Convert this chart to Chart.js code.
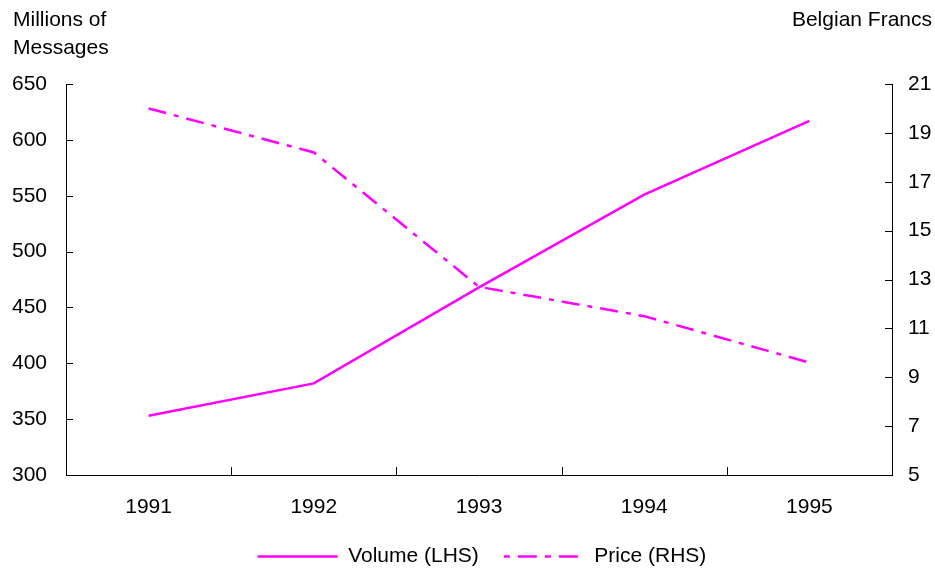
<!DOCTYPE html>
<html>
<head>
<meta charset="utf-8">
<script src="https://cdn.jsdelivr.net/npm/chart.js@4.4.0/dist/chart.umd.min.js"></script>
<style>
  html, body { margin: 0; padding: 0; background: #fff; }
  #wrap { width: 935px; height: 572px; position: relative; }
</style>
</head>
<body>
<div id="wrap"><canvas id="c" width="935" height="572"></canvas></div>
<script>
// Annual message volume and price
const years = ['1991', '1992', '1993', '1994', '1995'];
const volume = [353, 382, 468, 551, 617];      // millions of messages (left axis)
const price = [20.0, 18.2, 12.7, 11.5, 9.6];   // Belgian francs (right axis)
const leftTicks = [300, 350, 400, 450, 500, 550, 600, 650];
const rightTicks = [5, 7, 9, 11, 13, 15, 17, 19, 21];

const FONT = { family: '"Liberation Sans", Arial, sans-serif', size: 21 };
const MAGENTA = '#ff00ff';
const PRICE_DASH = [18, 8, 5, 8];

// Short tick marks pointing into the plot, plus the corner axis titles
const axisDecor = {
  id: 'axisDecor',
  afterLayout(chart) {
    // nudge the legend so it sits centred under the plot
    if (chart.legend) chart.legend.left = 29;
  },
  afterDraw(chart) {
    const { ctx, chartArea: a, scales } = chart;
    ctx.save();
    ctx.strokeStyle = '#000';
    ctx.lineWidth = 1;
    ctx.beginPath();
    const yl = scales.y, yr = scales.y1, x = scales.x;
    leftTicks.forEach(v => {
      const py = Math.round(yl.getPixelForValue(v)) + 0.5;
      ctx.moveTo(a.left, py); ctx.lineTo(a.left + 7, py);
    });
    rightTicks.forEach(v => {
      const py = Math.round(yr.getPixelForValue(v)) + 0.5;
      ctx.moveTo(a.right, py); ctx.lineTo(a.right - 7, py);
    });
    for (let i = 1; i < years.length; i++) {
      const px = Math.round((x.getPixelForValue(i - 1) + x.getPixelForValue(i)) / 2) + 0.5;
      ctx.moveTo(px, a.bottom); ctx.lineTo(px, a.bottom - 8);
    }
    ctx.stroke();

    ctx.fillStyle = '#000';
    ctx.font = FONT.size + 'px ' + FONT.family;
    ctx.textBaseline = 'alphabetic';
    ctx.textAlign = 'left';
    ctx.fillText('Millions of', 13, 26);
    ctx.fillText('Messages', 13, 54);
    ctx.textAlign = 'right';
    ctx.fillText('Belgian Francs', 932, 26);
    ctx.restore();
  }
};

new Chart(document.getElementById('c'), {
  type: 'line',
  data: {
    labels: years,
    datasets: [
      {
        label: 'Volume (LHS)',
        data: volume,
        yAxisID: 'y',
        borderColor: MAGENTA,
        backgroundColor: MAGENTA,
        borderWidth: 2.5,
        pointRadius: 0,
        tension: 0
      },
      {
        label: 'Price (RHS)',
        data: price,
        yAxisID: 'y1',
        borderColor: MAGENTA,
        backgroundColor: MAGENTA,
        borderWidth: 2.5,
        borderDash: PRICE_DASH,
        pointRadius: 0,
        tension: 0
      }
    ]
  },
  options: {
    responsive: false,
    animation: false,
    devicePixelRatio: 1,
    layout: { padding: { top: 84, left: 0, right: 0, bottom: -5 } },
    plugins: {
      tooltip: { enabled: false },
      title: { display: false },
      legend: {
        display: true,
        position: 'bottom',
        labels: {
          font: FONT,
          color: '#000',
          usePointStyle: true,
          pointStyle: 'line',
          pointStyleWidth: 80,
          boxWidth: 80,
          boxHeight: 21,
          padding: 25,
          generateLabels(chart) {
            return chart.data.datasets.map((ds, i) => ({
              text: ds.label,
              datasetIndex: i,
              fillStyle: ds.borderColor,
              strokeStyle: ds.borderColor,
              fontColor: '#000',
              lineWidth: 2.5,
              // sample is stroked right-to-left, so the pattern is reversed
              lineDash: ds.borderDash ? [ds.borderDash[2] + 1, ds.borderDash[3], ds.borderDash[0] + 1, ds.borderDash[1]] : [],
              pointStyle: 'line',
              hidden: false
            }));
          }
        }
      }
    },
    scales: {
      x: {
        offset: true,
        grid: { display: false, drawTicks: false, offset: true },
        border: { display: true, color: '#000', width: 1 },
        ticks: { font: FONT, color: '#000', padding: 20, maxRotation: 0 },
        afterFit(s) { s.height = 46; }
      },
      y: {
        position: 'left',
        min: 300,
        max: 650,
        grid: { display: false, drawTicks: false },
        border: { display: true, color: '#000', width: 1 },
        ticks: { font: FONT, color: '#000', padding: 19, stepSize: 50 },
        afterFit(s) { s.width = 66; },
        afterBuildTicks(s) { s.ticks = leftTicks.map(v => ({ value: v })); }
      },
      y1: {
        position: 'right',
        min: 5,
        max: 21,
        grid: { display: false, drawTicks: false },
        border: { display: true, color: '#000', width: 1 },
        ticks: { font: FONT, color: '#000', padding: 16, stepSize: 2 },
        afterFit(s) { s.width = 43; },
        afterBuildTicks(s) { s.ticks = rightTicks.map(v => ({ value: v })); }
      }
    }
  },
  plugins: [axisDecor]
});
</script>
</body>
</html>
